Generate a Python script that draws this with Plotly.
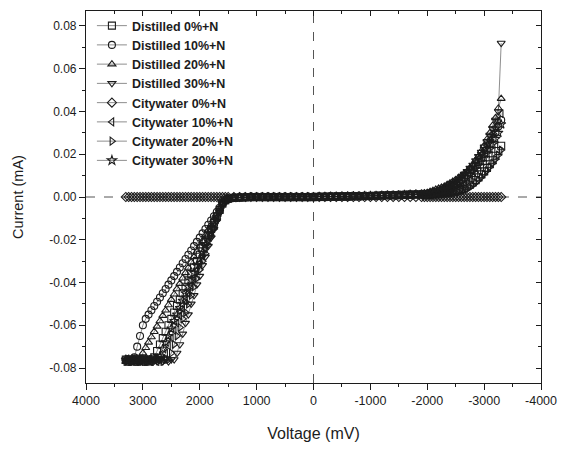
import plotly.graph_objects as go

# ---------------- data ----------------
# Voltage (mV): reverse part (3300..1550), middle part (1500..-1900), forward part (-1950..-3300)
v_rev = [3300, 3250, 3200, 3150, 3100, 3050, 3000, 2950, 2900, 2850, 2800, 2750,
         2700, 2650, 2600, 2550, 2500, 2450, 2400, 2350, 2300, 2250, 2200, 2150,
         2100, 2050, 2000, 1950, 1900, 1850, 1800, 1750, 1700, 1650, 1600, 1550]
v_mid = [1500, 1400, 1300, 1200, 1100, 1000, 900, 800, 700, 600, 500, 400, 300,
         200, 100, 0, -100, -200, -300, -400, -500, -600, -700, -800, -900,
         -1000, -1100, -1200, -1300, -1400, -1500, -1600, -1700, -1800, -1900]
v_fwd = [-1950, -2000, -2050, -2100, -2150, -2200, -2250, -2300, -2350, -2400,
         -2450, -2500, -2550, -2600, -2650, -2700, -2750, -2800, -2850, -2900,
         -2950, -3000, -3050, -3100, -3150, -3200, -3250, -3300]

# Current (mA) near zero in the middle part
flat_mid = [-0.0008, -0.0004, -0.0002, -0.0001, 0, 0, 0, 0, 0, 0, 0, 0, 0, 0, 0, 0,
            0.0001, 0.0001, 0.0002, 0.0002, 0.0003, 0.0003, 0.0004, 0.0004, 0.0005,
            0.0005, 0.0006, 0.0007, 0.0008, 0.0008, 0.0009, 0.001, 0.0011, 0.0012, 0.0013]
zero_mid = [0, 0, 0, 0, 0, 0, 0, 0, 0, 0, 0, 0, 0, 0, 0, 0, 0, 0, 0, 0, 0, 0, 0, 0, 0,
            0, 0, 0, 0, 0, 0, 0, 0, 0, 0]

# Reverse part (3300 .. 1550 mV)
d0_rev = [-0.076, -0.077, -0.076, -0.076, -0.077, -0.076, -0.076, -0.077, -0.076, -0.076,
          -0.075, -0.072, -0.069, -0.066, -0.063, -0.060, -0.057, -0.054, -0.051, -0.048,
          -0.045, -0.042, -0.039, -0.036, -0.033, -0.030, -0.027, -0.024, -0.021, -0.018,
          -0.015, -0.012, -0.009, -0.006, -0.003, -0.0015]
d10_rev = [-0.076, -0.077, -0.076, -0.075, -0.070, -0.065, -0.060, -0.057, -0.055, -0.053,
           -0.051, -0.049, -0.047, -0.045, -0.043, -0.041, -0.039, -0.037, -0.035, -0.033,
           -0.031, -0.029, -0.027, -0.025, -0.023, -0.021, -0.019, -0.017, -0.015, -0.013,
           -0.011, -0.009, -0.007, -0.005, -0.003, -0.0015]
d20_rev = [-0.077, -0.076, -0.077, -0.077, -0.076, -0.0755, -0.073, -0.0705, -0.068, -0.0655,
           -0.063, -0.0605, -0.058, -0.0555, -0.053, -0.0505, -0.048, -0.0455, -0.043, -0.0405,
           -0.038, -0.0355, -0.033, -0.0305, -0.028, -0.0255, -0.023, -0.0205, -0.018, -0.0155,
           -0.013, -0.0105, -0.008, -0.0055, -0.003, -0.0015]
d30_rev = [-0.077, -0.076, -0.077, -0.076, -0.077, -0.077, -0.076, -0.077, -0.076, -0.077,
           -0.076, -0.077, -0.076, -0.077, -0.076, -0.077, -0.076, -0.076, -0.073, -0.069,
           -0.064, -0.059, -0.055, -0.050, -0.046, -0.041, -0.037, -0.032, -0.028, -0.023,
           -0.019, -0.015, -0.011, -0.007, -0.003, -0.0015]
c0_rev = [0, 0, 0, 0, 0, 0, 0, 0, 0, 0, 0, 0, 0, 0, 0, 0, 0, 0,
          0, 0, 0, 0, 0, 0, 0, 0, 0, 0, 0, 0, 0, 0, 0, 0, 0, 0]
c10_rev = [-0.076, -0.077, -0.076, -0.077, -0.076, -0.076, -0.077, -0.076, -0.076, -0.077,
           -0.076, -0.077, -0.076, -0.076, -0.073, -0.0695, -0.066, -0.0625, -0.059, -0.0555,
           -0.052, -0.0485, -0.045, -0.0415, -0.038, -0.0345, -0.031, -0.0275, -0.024, -0.0205,
           -0.017, -0.0135, -0.010, -0.0065, -0.003, -0.0015]
c20_rev = [-0.077, -0.076, -0.077, -0.076, -0.076, -0.077, -0.076, -0.076, -0.077, -0.076,
           -0.077, -0.076, -0.076, -0.077, -0.076, -0.076, -0.073, -0.069, -0.065, -0.061,
           -0.057, -0.054, -0.050, -0.046, -0.042, -0.038, -0.034, -0.030, -0.0265, -0.0225,
           -0.0185, -0.015, -0.011, -0.007, -0.003, -0.0015]
c30_rev = [-0.076, -0.076, -0.077, -0.076, -0.076, -0.077, -0.076, -0.076, -0.077, -0.076,
           -0.076, -0.076, -0.0745, -0.071, -0.068, -0.065, -0.0615, -0.058, -0.055, -0.052,
           -0.0485, -0.045, -0.042, -0.039, -0.0355, -0.032, -0.029, -0.026, -0.0225, -0.019,
           -0.016, -0.013, -0.0095, -0.006, -0.003, -0.0015]

# Forward part (-1950 .. -3300 mV)
d0_fwd = [0.001, 0.0011, 0.0012, 0.0013, 0.0014, 0.0015, 0.0016, 0.0018, 0.002, 0.0022,
          0.0025, 0.0028, 0.0032, 0.0037, 0.0043, 0.005, 0.0058, 0.0068, 0.0079, 0.0092,
          0.0106, 0.012, 0.0136, 0.0153, 0.0172, 0.0193, 0.0215, 0.024]
d10_fwd = [0.0012, 0.0014, 0.0016, 0.0019, 0.0022, 0.0026, 0.003, 0.0035, 0.004, 0.0046,
           0.0053, 0.006, 0.0069, 0.0079, 0.009, 0.0102, 0.0115, 0.013, 0.0146, 0.0163,
           0.018, 0.020, 0.022, 0.0245, 0.027, 0.030, 0.033, 0.036]
d20_fwd = [0.0018, 0.002, 0.0025, 0.003, 0.0035, 0.004, 0.0045, 0.005, 0.0058, 0.0065,
           0.0073, 0.008, 0.009, 0.010, 0.011, 0.012, 0.0135, 0.015, 0.017, 0.019,
           0.0215, 0.024, 0.027, 0.030, 0.0335, 0.037, 0.0415, 0.046]
d30_fwd = [0.0015, 0.0017, 0.002, 0.0024, 0.0028, 0.0033, 0.0038, 0.0044, 0.005, 0.0057,
           0.0065, 0.0074, 0.0084, 0.0095, 0.0107, 0.012, 0.0135, 0.015, 0.017, 0.019,
           0.021, 0.0235, 0.026, 0.029, 0.032, 0.036, 0.040, 0.072]
c0_fwd = [0, 0, 0, 0, 0, 0, 0, 0, 0, 0, 0, 0, 0, 0, 0, 0, 0, 0, 0, 0, 0, 0, 0, 0, 0, 0, 0, 0]
c10_fwd = [0.0013, 0.0015, 0.0018, 0.0021, 0.0025, 0.0029, 0.0034, 0.0039, 0.0045, 0.0052,
           0.006, 0.0069, 0.0079, 0.009, 0.0102, 0.0115, 0.013, 0.0146, 0.0163, 0.0181,
           0.020, 0.022, 0.0243, 0.0268, 0.0295, 0.0325, 0.0355, 0.039]
c20_fwd = [0.001, 0.001, 0.0011, 0.0011, 0.0012, 0.0012, 0.0013, 0.0014, 0.0015, 0.0016,
           0.0018, 0.002, 0.0023, 0.0027, 0.0032, 0.0038, 0.0046, 0.0055, 0.0066, 0.0078,
           0.0092, 0.0107, 0.0123, 0.014, 0.0158, 0.0177, 0.0197, 0.022]
c30_fwd = [0.0012, 0.0013, 0.0015, 0.0017, 0.0019, 0.0022, 0.0025, 0.0029, 0.0033, 0.0038,
           0.0044, 0.0051, 0.0059, 0.0068, 0.0078, 0.009, 0.0103, 0.0117, 0.0132, 0.0148,
           0.0165, 0.0183, 0.0203, 0.0224, 0.0247, 0.0272, 0.030, 0.034]

series_names = ["Distilled 0%+N", "Distilled 10%+N", "Distilled 20%+N", "Distilled 30%+N",
                "Citywater 0%+N", "Citywater 10%+N", "Citywater 20%+N", "Citywater 30%+N"]
series_data = [
    d0_rev + flat_mid + d0_fwd,
    d10_rev + flat_mid + d10_fwd,
    d20_rev + flat_mid + d20_fwd,
    d30_rev + flat_mid + d30_fwd,
    c0_rev + zero_mid + c0_fwd,
    c10_rev + flat_mid + c10_fwd,
    c20_rev + flat_mid + c20_fwd,
    c30_rev + flat_mid + c30_fwd,
]
voltage = v_rev + v_mid + v_fwd
symbols = ["square-open", "circle-open", "triangle-up-open", "triangle-down-open",
           "diamond-open", "triangle-left-open", "triangle-right-open", "star-open"]

x_ticks = [4000, 3000, 2000, 1000, 0, -1000, -2000, -3000, -4000]
x_labels = ["4000", "3000", "2000", "1000", "0", "-1000", "-2000", "-3000", "-4000"]
y_ticks = [0.08, 0.06, 0.04, 0.02, 0.0, -0.02, -0.04, -0.06, -0.08]
y_labels = ["0.08", "0.06", "0.04", "0.02", "0.00", "-0.02", "-0.04", "-0.06", "-0.08"]

# ---------------- style ----------------
INK = "#1c1c1c"
FONT = "Liberation Sans, Arial, sans-serif"

fig = go.Figure()
for name, ys, sym in zip(series_names, series_data, symbols):
    fig.add_trace(go.Scatter(
        x=voltage, y=ys, name=name, mode="lines+markers",
        line=dict(color=INK, width=0.5),
        marker=dict(symbol=sym, size=7, color=INK, line=dict(color=INK, width=1.1)),
    ))

# invisible trace to activate mirror axes (inside ticks on top/right)
fig.add_trace(go.Scatter(x=[None], y=[None], xaxis="x2", yaxis="y2",
                         showlegend=False, hoverinfo="skip"))

XR = [4000, -4000]
YR = [-0.087, 0.087]

fig.update_layout(
    width=567, height=449,
    margin=dict(l=86, r=19, t=10, b=61),
    paper_bgcolor="white", plot_bgcolor="white",
    font=dict(family=FONT, color=INK, size=12),
    showlegend=True,
    legend=dict(x=0.013, y=1.0, xanchor="left", yanchor="top",
                bgcolor="rgba(0,0,0,0)", borderwidth=0,
                font=dict(family=FONT, size=12.5, color=INK, weight="bold"),
                tracegroupgap=0, itemwidth=30),
    xaxis=dict(range=XR, autorange=False, showgrid=False, zeroline=False,
               showline=True, linecolor=INK, linewidth=1.2, mirror=True,
               ticks="outside", ticklen=6, tickwidth=1.2, tickcolor=INK,
               tickvals=x_ticks, ticktext=x_labels, tickfont=dict(size=12.5),
               minor=dict(ticks="outside", ticklen=3, tickwidth=1.2, tickcolor=INK,
                          dtick=500, tick0=0, showgrid=False),
               title=dict(text="Voltage (mV)", font=dict(size=16), standoff=20)),
    yaxis=dict(range=YR, autorange=False, showgrid=False, zeroline=False,
               showline=True, linecolor=INK, linewidth=1.2, mirror=True,
               ticks="outside", ticklen=6, tickwidth=1.2, tickcolor=INK,
               tickvals=y_ticks, ticktext=y_labels, tickfont=dict(size=12),
               minor=dict(ticks="outside", ticklen=3, tickwidth=1.2, tickcolor=INK,
                          dtick=0.01, tick0=0, showgrid=False),
               title=dict(text="Current (mA)", font=dict(size=14.5), standoff=22)),
    xaxis2=dict(range=XR, autorange=False, overlaying="x", side="top",
                showgrid=False, zeroline=False, showticklabels=False,
                ticks="inside", ticklen=5, tickwidth=1.2, tickcolor=INK,
                tickvals=x_ticks,
                minor=dict(ticks="inside", ticklen=3, tickwidth=1.2, tickcolor=INK,
                           dtick=500, tick0=0, showgrid=False)),
    yaxis2=dict(range=YR, autorange=False, overlaying="y", side="right",
                showgrid=False, zeroline=False, showticklabels=False,
                ticks="inside", ticklen=5, tickwidth=1.2, tickcolor=INK,
                tickvals=y_ticks,
                minor=dict(ticks="inside", ticklen=3, tickwidth=1.2, tickcolor=INK,
                           dtick=0.01, tick0=0, showgrid=False)),
    shapes=[
        dict(type="line", xref="paper", yref="y", x0=0, x1=1, y0=0, y1=0,
             line=dict(color="#555555", width=1, dash="dash"), layer="below"),
        dict(type="line", xref="x", yref="paper", x0=0, x1=0, y0=0, y1=1,
             line=dict(color="#555555", width=1, dash="dash"), layer="below"),
    ],
)

fig.write_html("out.html")
